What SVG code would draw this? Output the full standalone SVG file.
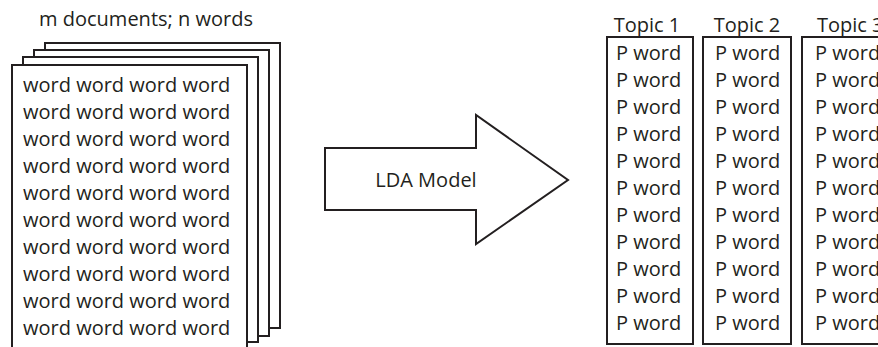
<svg xmlns="http://www.w3.org/2000/svg" width="878" height="347" viewBox="0 0 878 347">
<style>
text{font-family:"Open Sans","Liberation Sans",sans-serif;font-size:20px;fill:#231f20}
.pg{fill:#fff;stroke:#231f20;stroke-width:2}
.bx{fill:#fff;stroke:#231f20;stroke-width:2}
.c{text-anchor:middle}
</style>
<rect width="878" height="347" fill="#fff"/>
<g id="documents">
<text x="146" y="26" class="c">m documents; n words</text>
<rect class="pg" x="45" y="43" width="235" height="285"/>
<rect class="pg" x="34" y="50" width="235" height="286"/>
<rect class="pg" x="23" y="57" width="235" height="285"/>
<rect class="pg" x="12" y="65" width="235" height="300"/>
<g>
<text x="23" y="92">word word word word</text>
<text x="23" y="119">word word word word</text>
<text x="23" y="146">word word word word</text>
<text x="23" y="173">word word word word</text>
<text x="23" y="200">word word word word</text>
<text x="23" y="227">word word word word</text>
<text x="23" y="254">word word word word</text>
<text x="23" y="281">word word word word</text>
<text x="23" y="308">word word word word</text>
<text x="23" y="335">word word word word</text>
</g>
</g>
<g id="connectors">
<g id="lda-arrow">
<polygon points="325,148 476,148 476,115 568,180 476,244 476,210 325,210" fill="#fff" stroke="#231f20" stroke-width="2"/>
<text x="426" y="187" class="c">LDA Model</text>
</g>
</g>
<g id="topic1">
<text x="647" y="32" class="c">Topic 1</text>
<rect class="bx" x="607" y="37" width="86" height="307"/>
<text x="616" y="60">P word</text>
<text x="616" y="87">P word</text>
<text x="616" y="114">P word</text>
<text x="616" y="141">P word</text>
<text x="616" y="168">P word</text>
<text x="616" y="195">P word</text>
<text x="616" y="222">P word</text>
<text x="616" y="249">P word</text>
<text x="616" y="276">P word</text>
<text x="616" y="303">P word</text>
<text x="616" y="330">P word</text>
</g>
<g id="topic2">
<text x="747" y="32" class="c">Topic 2</text>
<rect class="bx" x="703" y="37" width="88" height="307"/>
<text x="715" y="60">P word</text>
<text x="715" y="87">P word</text>
<text x="715" y="114">P word</text>
<text x="715" y="141">P word</text>
<text x="715" y="168">P word</text>
<text x="715" y="195">P word</text>
<text x="715" y="222">P word</text>
<text x="715" y="249">P word</text>
<text x="715" y="276">P word</text>
<text x="715" y="303">P word</text>
<text x="715" y="330">P word</text>
</g>
<g id="topic3">
<text x="817" y="32">Topic 3</text>
<rect class="bx" x="802" y="37" width="88" height="307"/>
<text x="815" y="60">P word</text>
<text x="815" y="87">P word</text>
<text x="815" y="114">P word</text>
<text x="815" y="141">P word</text>
<text x="815" y="168">P word</text>
<text x="815" y="195">P word</text>
<text x="815" y="222">P word</text>
<text x="815" y="249">P word</text>
<text x="815" y="276">P word</text>
<text x="815" y="303">P word</text>
<text x="815" y="330">P word</text>
</g>
</svg>
